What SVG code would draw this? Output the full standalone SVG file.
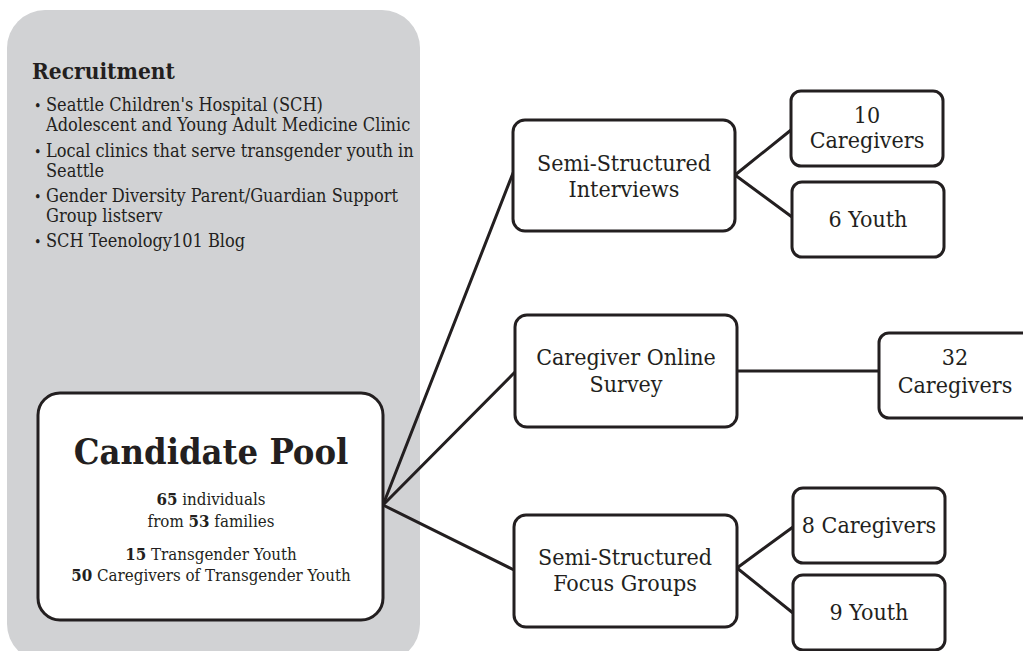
<svg xmlns="http://www.w3.org/2000/svg" width="1023" height="651" viewBox="0 0 1023 651">
<style>
text{font-family:"DejaVu Serif Condensed","DejaVu Serif",serif;fill:#231f20}
.box{fill:#fff;stroke:#231f20;stroke-width:3}
.c{text-anchor:middle}
.m{font-size:23px}
.s{font-size:18px}
.p{font-size:16.8px}
.b{font-weight:bold}
.conn line{stroke:#231f20;stroke-width:3;stroke-linecap:round}
</style>
<g id="recruitment">
<rect x="7" y="10" width="413" height="652" rx="38" fill="#d1d2d4"/>
<text x="32" y="79" class="b" style="font-size:22.5px">Recruitment</text>
<g class="s">
<text x="34" y="111" style="font-size:14px">•</text><text x="46" y="111">Seattle Children's Hospital (SCH)</text>
<text x="46" y="131">Adolescent and Young Adult Medicine Clinic</text>
<text x="34" y="157" style="font-size:14px">•</text><text x="46" y="157">Local clinics that serve transgender youth in</text>
<text x="46" y="177">Seattle</text>
<text x="34" y="202" style="font-size:14px">•</text><text x="46" y="202">Gender Diversity Parent/Guardian Support</text>
<text x="46" y="222">Group listserv</text>
<text x="34" y="247" style="font-size:14px">•</text><text x="46" y="247">SCH Teenology101 Blog</text>
</g>
</g>
<g class="conn" id="connectors">
<line x1="383" y1="505" x2="513" y2="173"/>
<line x1="383" y1="505" x2="515" y2="372"/>
<line x1="383" y1="505" x2="514" y2="570"/>
<line x1="735" y1="175" x2="791" y2="130"/>
<line x1="735" y1="175" x2="792" y2="217"/>
<line x1="737" y1="371" x2="879" y2="371"/>
<line x1="737" y1="568" x2="793" y2="527"/>
<line x1="737" y1="568" x2="793" y2="613"/>
</g>
<g id="candidate-pool">
<rect class="box" x="38" y="393" width="345" height="227" rx="22"/>
<text x="211" y="464" class="c b" style="font-size:36px">Candidate Pool</text>
<text x="211" y="505" class="c p"><tspan class="b">65</tspan> individuals</text>
<text x="211" y="527" class="c p">from <tspan class="b">53</tspan> families</text>
<text x="211" y="560" class="c p"><tspan class="b">15</tspan> Transgender Youth</text>
<text x="211" y="581" class="c p"><tspan class="b">50</tspan> Caregivers of Transgender Youth</text>
</g>
<g id="interviews">
<rect class="box" x="513" y="120" width="222" height="111" rx="12"/>
<text x="624" y="171" class="c m">Semi-Structured</text>
<text x="624" y="197" class="c m">Interviews</text>
</g>
<g id="int-caregivers">
<rect class="box" x="791" y="91" width="152" height="75" rx="10"/>
<text x="867" y="123" class="c m">10</text>
<text x="867" y="148" class="c m">Caregivers</text>
</g>
<g id="int-youth">
<rect class="box" x="792" y="182" width="152" height="75" rx="10"/>
<text x="868" y="227" class="c m">6 Youth</text>
</g>
<g id="survey">
<rect class="box" x="515" y="315" width="222" height="112" rx="12"/>
<text x="626" y="365" class="c m">Caregiver Online</text>
<text x="626" y="392" class="c m">Survey</text>
</g>
<g id="survey-caregivers">
<rect class="box" x="879" y="333" width="160" height="85" rx="10"/>
<text x="955" y="365" class="c m">32</text>
<text x="955" y="393" class="c m">Caregivers</text>
</g>
<g id="focus">
<rect class="box" x="514" y="515" width="223" height="112" rx="12"/>
<text x="625" y="565" class="c m">Semi-Structured</text>
<text x="625" y="591" class="c m">Focus Groups</text>
</g>
<g id="focus-caregivers">
<rect class="box" x="793" y="488" width="152" height="75" rx="10"/>
<text x="869" y="533" class="c m">8 Caregivers</text>
</g>
<g id="focus-youth">
<rect class="box" x="793" y="575" width="152" height="75" rx="10"/>
<text x="869" y="620" class="c m">9 Youth</text>
</g>
</svg>
